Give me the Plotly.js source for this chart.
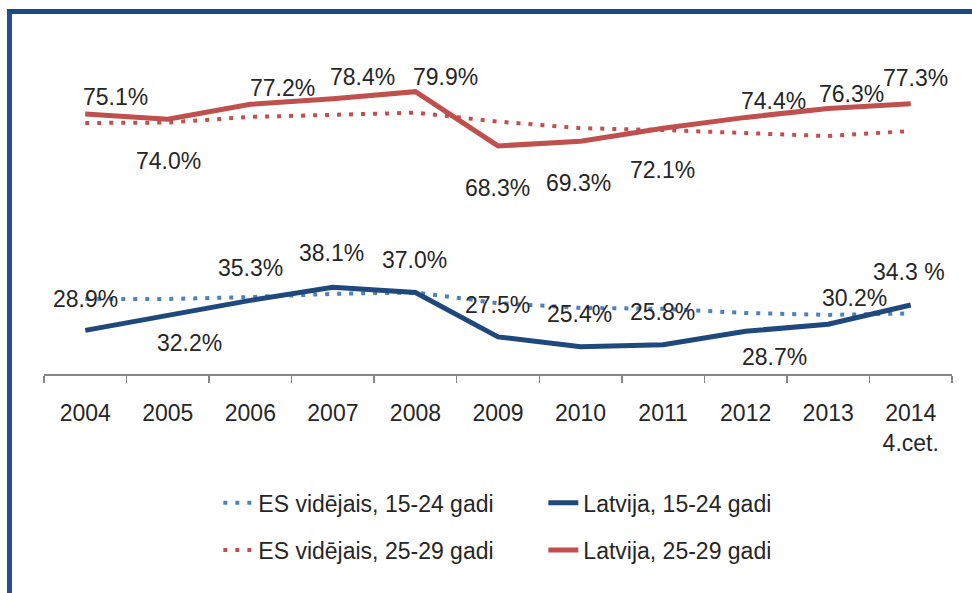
<!DOCTYPE html>
<html>
<head>
<meta charset="utf-8">
<script src="https://cdn.plot.ly/plotly-3.0.1.min.js"></script>
<style>
  html, body { margin: 0; padding: 0; background: #ffffff; }
  #wrap { position: relative; width: 972px; height: 593px; overflow: hidden; }
  #chart { position: absolute; left: 0; top: 0; width: 972px; height: 593px; }
  #frame { position: absolute; left: 7px; top: 9px; width: 980px; height: 600px;
           border-left: 5px solid #24508f; border-top: 5px solid #1f467f; pointer-events: none; }
</style>
</head>
<body>
<div id="wrap">
  <div id="chart"></div>
  <div id="frame"></div>
</div>
<script>
// ---- data ----
const years = ['2004','2005','2006','2007','2008','2009','2010','2011','2012','2013','2014<br>4.cet.'];
const es1524 = [35.6, 35.6, 36.0, 36.7, 37.0, 34.7, 33.7, 33.5, 32.6, 32.2, 32.5];
const lv1524 = [28.9, 32.2, 35.3, 38.1, 37.0, 27.5, 25.4, 25.8, 28.7, 30.2, 34.3];
const es2529 = [73.2, 73.3, 74.5, 74.9, 75.4, 73.5, 72.1, 71.7, 71.0, 70.4, 71.5];
const lv2529 = [75.1, 74.0, 77.2, 78.4, 79.9, 68.3, 69.3, 72.1, 74.4, 76.3, 77.3];
const lv1524Text = ['28.9%','32.2%','35.3%','38.1%','37.0%','27.5%','25.4%','25.8%','28.7%','30.2%','34.3 %'];
const lv2529Text = ['75.1%','74.0%','77.2%','78.4%','79.9%','68.3%','69.3%','72.1%','74.4%','76.3%','77.3%'];
const seriesNames = ['ES vidējais, 15-24 gadi','Latvija, 15-24 gadi','ES vidējais, 25-29 gadi','Latvija, 25-29 gadi'];

// ---- label offsets (px) ----
const lv1524Shift = [[0,31],[22,-28],[0,32],[-1,34],[-1,32],[-1,32],[-1,33],[-1,33],[29,-26],[26,26],[-2,33]];
const lv2529Shift = [[30,17],[1,-42],[32,16],[30,22],[30,15],[-1,-42],[-2,-42],[-1,-42],[28,16],[23,15],[5,26]];

const FONT = 'Liberation Sans, Arial, sans-serif';
const TXT = '#262626';
const dotDash = '4px,8px';

const traces = [
  {x: years, y: es1524, name: seriesNames[0], type: 'scatter', mode: 'lines',
   line: {color: '#4f81bd', width: 4, dash: dotDash}, legend: 'legend'},
  {x: years, y: lv1524, name: seriesNames[1], type: 'scatter', mode: 'lines',
   line: {color: '#1f497d', width: 5}, legend: 'legend'},
  {x: years, y: es2529, name: seriesNames[2], type: 'scatter', mode: 'lines',
   line: {color: '#c0504d', width: 4, dash: dotDash}, legend: 'legend2'},
  {x: years, y: lv2529, name: seriesNames[3], type: 'scatter', mode: 'lines',
   line: {color: '#c0504d', width: 5}, legend: 'legend2'}
];

// annotations placed on category index (numeric-looking category names would be misread)
const annotations = [];
years.forEach((yr, i) => {
  annotations.push({x: i, y: lv1524[i], xref: 'x', yref: 'y', text: lv1524Text[i], showarrow: false,
    xshift: lv1524Shift[i][0], yshift: lv1524Shift[i][1], font: {family: FONT, size: 23, color: TXT}});
  annotations.push({x: i, y: lv2529[i], xref: 'x', yref: 'y', text: lv2529Text[i], showarrow: false,
    xshift: lv2529Shift[i][0], yshift: lv2529Shift[i][1], font: {family: FONT, size: 23, color: TXT}});
});

const legendCommon = {orientation: 'h', xanchor: 'left', yanchor: 'middle',
  font: {family: FONT, size: 23, color: TXT}, bgcolor: 'rgba(0,0,0,0)',
  entrywidth: 280, entrywidthmode: 'pixels', itemclick: false, itemdoubleclick: false};

const layout = {
  width: 972, height: 593,
  margin: {l: 44, r: 20, t: 20, b: 219},
  paper_bgcolor: '#ffffff', plot_bgcolor: '#ffffff',
  font: {family: FONT, size: 23, color: TXT},
  showlegend: true,
  legend: Object.assign({}, legendCommon, {x: 0.192, y: -0.364}),
  legend2: Object.assign({}, legendCommon, {x: 0.192, y: -0.497}),
  xaxis: {type: 'category', range: [-0.5, 10.5], showline: true, linecolor: '#868686', linewidth: 1.5,
    ticks: 'outside', tickson: 'boundaries', ticklen: 7, tickcolor: '#868686', tickwidth: 1.5,
    ticklabelstandoff: 18,
    showgrid: false, zeroline: false, fixedrange: true,
    tickfont: {family: FONT, size: 23, color: TXT}},
  yaxis: {range: [19.57, 95.21], visible: false, showgrid: false, zeroline: false, fixedrange: true},
  annotations: annotations
};

Plotly.newPlot('chart', traces, layout, {displayModeBar: false, staticPlot: true});
</script>
</body>
</html>
